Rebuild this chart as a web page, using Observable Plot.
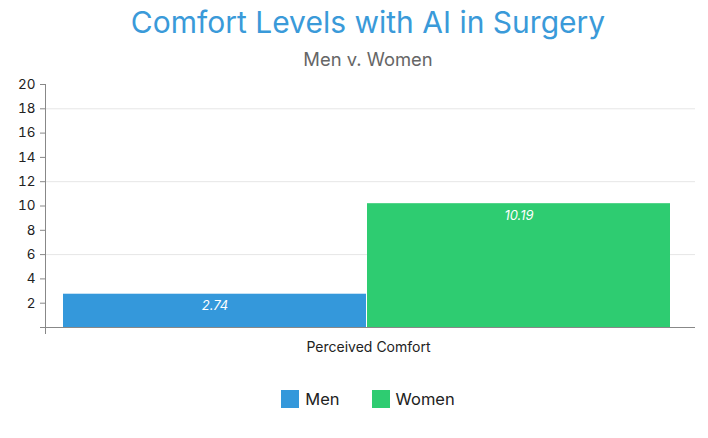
<!DOCTYPE html>
<html>
<head>
<meta charset="utf-8">
<script src="https://cdn.jsdelivr.net/npm/d3@7"></script>
<script src="https://cdn.jsdelivr.net/npm/@observablehq/plot@0.6"></script>
<style>
  html, body { margin: 0; padding: 0; background: #fff; }
  body { font-family: Inter, "Noto Sans", sans-serif; }
  #wrap { position: relative; width: 708px; height: 438px; }
  #title { position: absolute; left: 0; width: 736px; top: 1px; text-align: center; font-size: 30px; color: #3a9ad9; line-height: 42px; }
  #subtitle { position: absolute; left: 0; width: 736px; top: 48px; text-align: center; font-size: 18.4px; color: #666; line-height: 22px; }
  #chart { position: absolute; left: 0; top: 70px; }
  #legend { position: absolute; left: 0; top: 389px; width: 736px; display: flex; justify-content: center; gap: 0; font-size: 16.5px; color: #222; }
  .item { display: flex; align-items: center; margin: 0 16px; }
  .sw { width: 18px; height: 18px; margin-right: 6px; }
</style>
</head>
<body>
<div id="wrap">
  <div id="title"></div>
  <div id="subtitle"></div>
  <div id="chart"></div>
  <div id="legend"></div>
</div>
<script>
const title = "Comfort Levels with AI in Surgery";
const subtitle = "Men v. Women";
const categories = ["Perceived Comfort"];
const series = ["Men", "Women"];
const values = [2.74, 10.19];
const colors = ["#3498db", "#2ecc71"];
const yTicks = [2, 4, 6, 8, 10, 12, 14, 16, 18, 20];
const gridTicks = [6, 12, 18];

document.getElementById("title").textContent = title;
document.getElementById("subtitle").textContent = subtitle;

const data = series.map((s, i) => ({category: categories[0], series: s, value: values[i]}));

const chart = Plot.plot({
  width: 708,
  height: 295,
  marginLeft: 45,
  marginRight: 13,
  marginTop: 14,
  marginBottom: 38,
  style: {fontFamily: "Inter, 'Noto Sans', sans-serif", fontSize: "13px", color: "#222"},
  x: {domain: series, range: [63, 671], paddingInner: 0.003, paddingOuter: 0, axis: null},
  y: {domain: [0, 20], ticks: yTicks, label: null},
  color: {domain: series, range: colors},
  marks: [
    Plot.gridY(gridTicks, {stroke: "#e6e6e6", strokeOpacity: 1}),
    Plot.axisY(yTicks, {tickSize: 5, tickPadding: 5, stroke: "#888", label: null, fontSize: 13.5}),
    Plot.barY(data, {x: "series", y: "value", fill: "series"}),
    Plot.text(data, {x: "series", y: "value", text: d => d.value.toFixed(2), dy: 12, fill: "white", fontStyle: "italic", fontSize: 13}),
    Plot.frame({anchor: "left", stroke: "#888", insetBottom: -6}),
    Plot.ruleY([0], {stroke: "#888", insetLeft: -5}),
    Plot.text(categories, {text: d => d, frameAnchor: "bottom", dy: 24, dx: -2, fontSize: 14, fill: "#222"})
  ]
});
document.getElementById("chart").appendChild(chart);

const legend = document.getElementById("legend");
series.forEach((s, i) => {
  const item = document.createElement("div");
  item.className = "item";
  const sw = document.createElement("div");
  sw.className = "sw";
  sw.style.background = colors[i];
  const t = document.createElement("span");
  t.textContent = s;
  item.appendChild(sw);
  item.appendChild(t);
  legend.appendChild(item);
});
</script>
</body>
</html>
